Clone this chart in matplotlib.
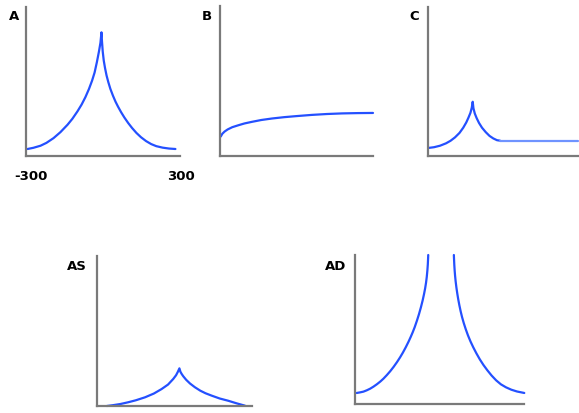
import matplotlib
matplotlib.use("Agg")
import matplotlib.pyplot as plt

W, H = 579, 414
fig = plt.figure(figsize=(W / 100, H / 100), dpi=100)

BLUE = "#2450ff"
LIGHT = "#6f93ff"
GRAY = "#7a7a7a"

# panel A: cusp (left side a bit wider than right)
a_x = [-290, -267, -239, -216, -188, -161, -133, -114, -94, -78, -63, -49, -37, -27, -18, -10, -4, 0,
       2, 5, 9, 14, 20, 27, 35, 45, 55, 65, 77, 90, 105, 120, 137, 155, 175, 195, 215, 240, 265, 290]
a_y = [0.047, 0.055, 0.069, 0.088, 0.12, 0.16, 0.21, 0.25, 0.30, 0.345, 0.395, 0.45, 0.505, 0.56, 0.63, 0.70, 0.76, 0.83,
       0.77, 0.70, 0.64, 0.59, 0.54, 0.495, 0.45, 0.405, 0.365, 0.331, 0.294, 0.258, 0.221, 0.188, 0.155, 0.126, 0.10, 0.08,
       0.066, 0.056, 0.05, 0.047]

# panel B: slow rise
b_x = [0.5, 1.5, 3, 5, 8, 12, 16, 21, 27, 34, 42, 50, 60, 70, 80, 90, 100]
b_y = [0.13, 0.148, 0.163, 0.177, 0.192, 0.205, 0.217, 0.228, 0.24, 0.25, 0.259, 0.266, 0.274, 0.28, 0.284, 0.286, 0.287]

# panel C: small cusp then flat
c_x = [0.2, 4, 8, 12, 15, 18, 21, 23.5, 25.5, 27, 28.3, 29.2, 29.8,
       30.3, 31.2, 32.4, 34, 36, 38.5, 41, 43.5, 46, 48]
c_y = [0.054, 0.059, 0.069, 0.085, 0.102, 0.125, 0.155, 0.19, 0.225, 0.258, 0.29, 0.325, 0.364,
       0.32, 0.285, 0.255, 0.222, 0.19, 0.16, 0.135, 0.118, 0.106, 0.103]
c_flat_x = [48, 100]
c_flat_y = [0.103, 0.103]

# panel AS
as_x = [-262, -240, -210, -179, -150, -114, -80, -50, -25, -5, 6, 13, 19,
        23, 28, 34, 45, 60, 79, 100, 120, 144, 175, 208, 240, 273]
as_y = [0.0, 0.005, 0.013, 0.025, 0.038, 0.058, 0.083, 0.113, 0.143, 0.18, 0.205, 0.228, 0.251,
        0.228, 0.213, 0.198, 0.175, 0.15, 0.125, 0.102, 0.085, 0.069, 0.05, 0.035, 0.018, 0.002]

# panel AD: two branches going off the top
ad_lx = [-294, -282, -270, -258, -246, -234, -222, -210, -199, -187, -175, -163, -151, -140, -130, -120,
         -110, -102, -95, -88, -80, -73, -66, -60, -55, -51, -47.8, -45.2, -43, -41.5, -40.5, -40]
ad_ly = [0.074, 0.078, 0.083, 0.092, 0.103, 0.117, 0.133, 0.151, 0.17, 0.194, 0.22, 0.249, 0.281, 0.313, 0.345, 0.38,
         0.418, 0.451, 0.482, 0.516, 0.56, 0.602, 0.649, 0.694, 0.737, 0.776, 0.814, 0.853, 0.897, 0.937, 0.977, 1.0]
ad_rx = [51, 51.3, 51.8, 52.6, 53.8, 55.3, 57.2, 60, 63, 66.5, 70.5, 75, 80, 86, 93, 101, 110, 120, 131, 143, 156,
         170, 185, 201, 218, 236, 255, 275, 301]
ad_ry = [1.0, 0.985, 0.964, 0.932, 0.896, 0.861, 0.825, 0.782, 0.743, 0.703, 0.663, 0.623, 0.584, 0.544, 0.503, 0.461,
         0.42, 0.38, 0.34, 0.30, 0.262, 0.226, 0.191, 0.159, 0.132, 0.112, 0.096, 0.084, 0.074]


def panel(left, right, top, bottom, xlim):
    ax = fig.add_axes([left / W, 1 - bottom / H, (right - left) / W, (bottom - top) / H])
    ax.set_xlim(xlim)
    ax.set_ylim(0, 1)
    for s in ["top", "right"]:
        ax.spines[s].set_visible(False)
    for s in ["left", "bottom"]:
        ax.spines[s].set_color(GRAY)
        ax.spines[s].set_linewidth(1.6)
    ax.set_xticks([])
    ax.set_yticks([])
    ax.patch.set_alpha(0)
    return ax


kw = dict(lw=1.6, clip_on=False, solid_joinstyle="round", solid_capstyle="round")

axA = panel(26, 180, 8, 157, (-296, 308))
axA.plot(a_x, a_y, color=BLUE, **kw)

axB = panel(220, 373, 7, 157, (0, 100))
axB.plot(b_x, b_y, color=BLUE, **kw)

axC = panel(428, 578, 8, 157, (0, 100))
axC.plot(c_x, c_y, color=BLUE, **kw)
axC.plot(c_flat_x, c_flat_y, color=LIGHT, **kw)

axAS = panel(97, 252, 257, 407, (-300, 300))
axAS.plot(as_x, as_y, color=BLUE, **kw)

axAD = panel(355, 524, 256, 405, (-300, 300))
axAD.plot(ad_lx, ad_ly, color=BLUE, **kw)
axAD.plot(ad_rx, ad_ry, color=BLUE, **kw)

# panel letters and end labels
labels = [("A", 14, 17), ("B", 207, 17), ("C", 414, 17), ("AS", 77, 267), ("AD", 336, 267),
          ("-300", 31, 177), ("300", 181, 177)]
for txt, x, y in labels:
    fig.text(x / W, 1 - y / H, txt, ha="center", va="center",
             fontsize=9.5, fontweight="bold", color="black")

fig.savefig("out.png", dpi=100)
